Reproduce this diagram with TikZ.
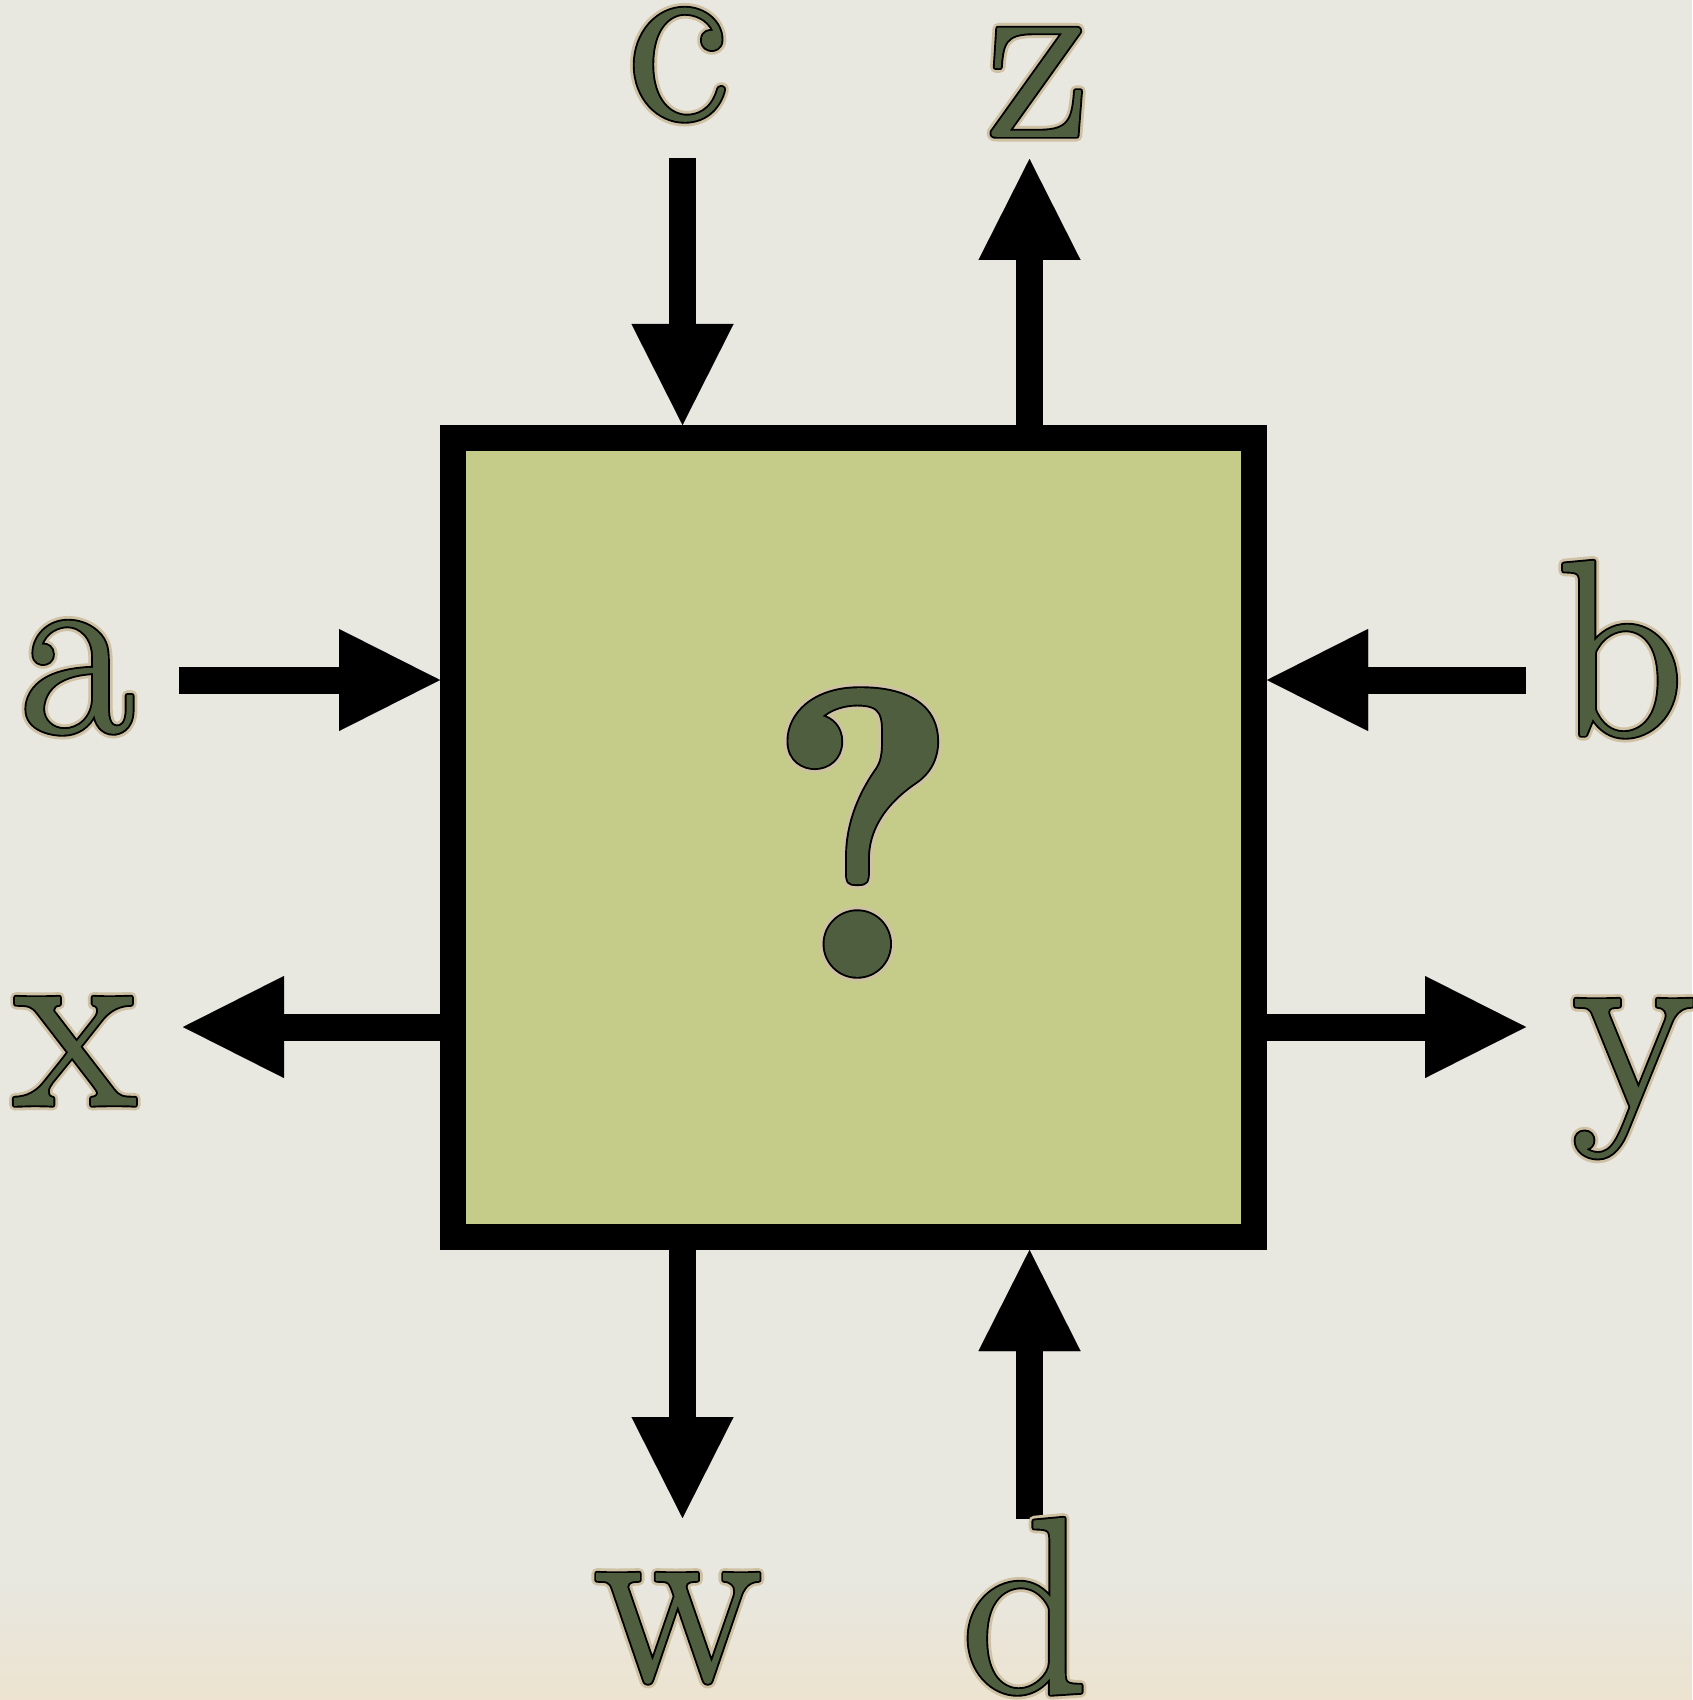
\documentclass[tikz,border=0pt]{standalone}
\usetikzlibrary{arrows.meta}
\definecolor{bg}{HTML}{E8E7E0}
\definecolor{warm}{HTML}{EDE3D0}
\definecolor{boxfill}{HTML}{C5CC8A}
\definecolor{letter}{HTML}{4F5E3F}
\definecolor{halo}{HTML}{CFC2A4}
\newcommand\glowtext[1]{%
\makebox[0pt][l]{\textcolor{halo}{\special{pdf:literal direct 2 Tr 5.5 w 1 j}#1}}%
\makebox[0pt][l]{\textcolor{black}{\special{pdf:literal direct 2 Tr 2.7 w 1 j}#1}}%
\special{pdf:literal direct 2 Tr 0.8 w 1 j}#1\special{pdf:literal direct 0 Tr}}
\tikzset{
  lbl/.style={inner sep=0pt, outer sep=0pt, anchor=base, text=letter, font=\fontsize{125}{125}\selectfont},
  qmark/.style={lbl, font=\fontsize{205}{205}\fontseries{b}\selectfont},
  arr/.style={line width=13.5pt, draw=black, -{Triangle[length=50.5pt,width=51pt,line width=0.01pt]}},
  blackbox/.style={draw=black, line width=13pt, fill=boxfill, minimum width=400.5pt, minimum height=399.5pt, inner sep=0pt},
}
\begin{document}
\begin{tikzpicture}[x=0.5pt, y=-0.5pt]
\useasboundingbox (0,0) rectangle (1692,1700);
\fill[bg] (0,0) rectangle (1692,1700);
\shade[top color=bg, bottom color=warm] (0,1580) rectangle (1692,1700);

\node[blackbox] (box) at (853.5,837.5) {};
\node[qmark] (q) at (863,976) {\glowtext{?}};

\coordinate (cS) at (682.5,158);
\coordinate (zE) at (1029.5,159);
\coordinate (aS) at (179,680);
\coordinate (bS) at (1526,680);
\coordinate (xE) at (183,1027);
\coordinate (yE) at (1526,1027);
\coordinate (wE) at (682.5,1518);
\coordinate (dS) at (1029.5,1519);

\draw[arr] (cS) -- (cS |- box.north);
\draw[arr] (zE |- box.north) -- (zE);
\draw[arr] (aS) -- (aS -| box.west);
\draw[arr] (bS) -- (bS -| box.east);
\draw[arr] (xE -| box.west) -- (xE);
\draw[arr] (yE -| box.east) -- (yE);
\draw[arr] (wE |- box.south) -- (wE);
\draw[arr] (dS) -- (dS |- box.south);

\node[lbl] (c) at (678,119) {\glowtext{c}};
\node[lbl] (z) at (1038,136) {\glowtext{z}};
\node[lbl] (a) at (77,732) {\glowtext{a}};
\node[lbl] (b) at (1620,735) {\glowtext{b}};
\node[lbl] (x) at (75,1105) {\glowtext{x}};
\node[lbl] (y) at (1634,1107) {\glowtext{y}};
\node[lbl] (w) at (678,1681) {\glowtext{w}};
\node[lbl] (d) at (1025,1692) {\glowtext{d}};
\end{tikzpicture}
\end{document}
